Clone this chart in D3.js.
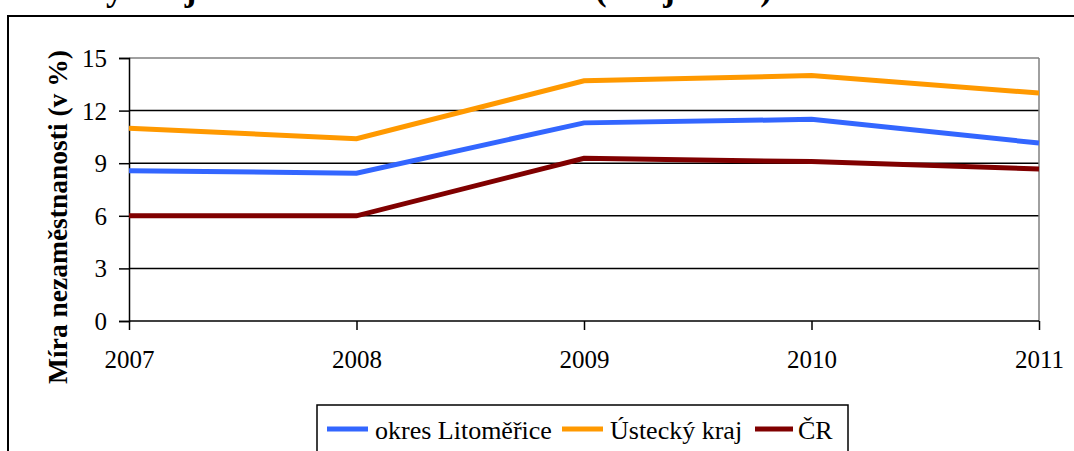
<html>
<head>
<meta charset="UTF-8">
<script src="https://d3js.org/d3.v7.min.js"></script>
</head>
<body style="margin:0;background:#fff">
<div id="chart"></div>
<script>
// data
var years = [2007, 2008, 2009, 2010, 2011];
var litomerice = [8.57, 8.43, 11.3, 11.5, 10.15];
var ustecky = [11.0, 10.4, 13.7, 14.0, 13.0];
var cr = [6.0, 6.0, 9.28, 9.09, 8.67];
var seriesNames = ["okres Litoměřice", "Ústecký kraj", "ČR"];
var seriesColors = ["#3366ff", "#ff9900", "#800000"];
var yTicks = [0, 3, 6, 9, 12, 15];

var FONT = "Liberation Serif";
var W = 1074, H = 451;
var svg = d3.select("#chart").append("svg")
  .attr("width", W).attr("height", H);

// title, cut off at the top of the picture
svg.append("text")
  .attr("x", 5).attr("y", -0.5)
  .style("font-family", FONT)
  .style("font-size", "35px").style("font-weight", "bold")
  .text("Ústecký kraj a ČR v letech 2007 – 2011 (údaje v %)");

// outer frame
svg.append("rect")
  .attr("x", 8).attr("y", 16).attr("width", W + 10).attr("height", H)
  .attr("fill", "none").attr("stroke", "#000").attr("stroke-width", 2);

var x = d3.scalePoint().domain(years).range([129, 1039]);
var y = d3.scaleLinear().domain([0, 15]).range([321, 58]);

// grid
svg.append("g").selectAll("line").data(yTicks.filter(function(d){ return d > 0; }))
  .enter().append("line")
  .attr("x1", 129).attr("x2", 1039)
  .attr("y1", function(d){ return y(d); }).attr("y2", function(d){ return y(d); })
  .attr("stroke", function(d){ return d == 15 ? "#808080" : "#000"; })
  .attr("stroke-width", 1.5);

// right border of plot area
svg.append("line")
  .attr("x1", 1039).attr("x2", 1039).attr("y1", 58).attr("y2", 321)
  .attr("stroke", "#808080").attr("stroke-width", 1.5);

// y axis
var yAxis = svg.append("g")
  .attr("transform", "translate(129,0)")
  .call(d3.axisLeft(y).tickValues(yTicks).tickSize(10).tickPadding(12));
yAxis.attr("font-family", null).attr("font-size", null);
yAxis.selectAll("text").style("font-family", FONT).style("font-size", "25px")
  .attr("fill", "#000").attr("dy", "0.34em");
yAxis.selectAll("line,path").attr("stroke", "#000").attr("stroke-width", 1.5);

// x axis
var xAxis = svg.append("g")
  .attr("transform", "translate(0,321)")
  .call(d3.axisBottom(x).tickSize(9).tickPadding(20).tickFormat(d3.format("d")));
xAxis.attr("font-family", null).attr("font-size", null);
xAxis.selectAll("text").style("font-family", FONT).style("font-size", "25px")
  .attr("fill", "#000");
xAxis.selectAll("line,path").attr("stroke", "#000").attr("stroke-width", 1.5);
xAxis.select("path").attr("d", "M129,0H1039");

// y title
svg.append("text")
  .attr("transform", "translate(67,217) rotate(-90)")
  .attr("text-anchor", "middle")
  .style("font-family", FONT)
  .style("font-size", "27.5px").style("font-weight", "bold")
  .text("Míra nezaměstnanosti (v %)");

// lines
var allSeries = [litomerice, ustecky, cr];
var line = d3.line()
  .x(function(d, i){ return x(years[i]); })
  .y(function(d){ return y(d); });

svg.append("g").selectAll("path").data(allSeries)
  .enter().append("path")
  .attr("d", line)
  .attr("fill", "none")
  .attr("stroke", function(d, i){ return seriesColors[i]; })
  .attr("stroke-width", 5);

// legend
svg.append("rect")
  .attr("x", 317).attr("y", 405).attr("width", 531).attr("height", 60)
  .attr("fill", "#fff").attr("stroke", "#000").attr("stroke-width", 1.5);

var legX = [327, 562, 755];
var leg = svg.append("g").selectAll("g").data(seriesNames)
  .enter().append("g")
  .attr("transform", function(d, i){ return "translate(" + legX[i] + ",429)"; });
leg.append("line")
  .attr("x1", 0).attr("x2", function(d, i){ return i == 2 ? 38 : 41; })
  .attr("stroke", function(d, i){ return seriesColors[i]; })
  .attr("stroke-width", 5);
leg.append("text")
  .attr("x", function(d, i){ return i == 2 ? 43 : 48; }).attr("y", 10)
  .style("font-family", FONT)
  .style("font-size", "26px")
  .text(function(d){ return d; });
</script>
</body>
</html>
